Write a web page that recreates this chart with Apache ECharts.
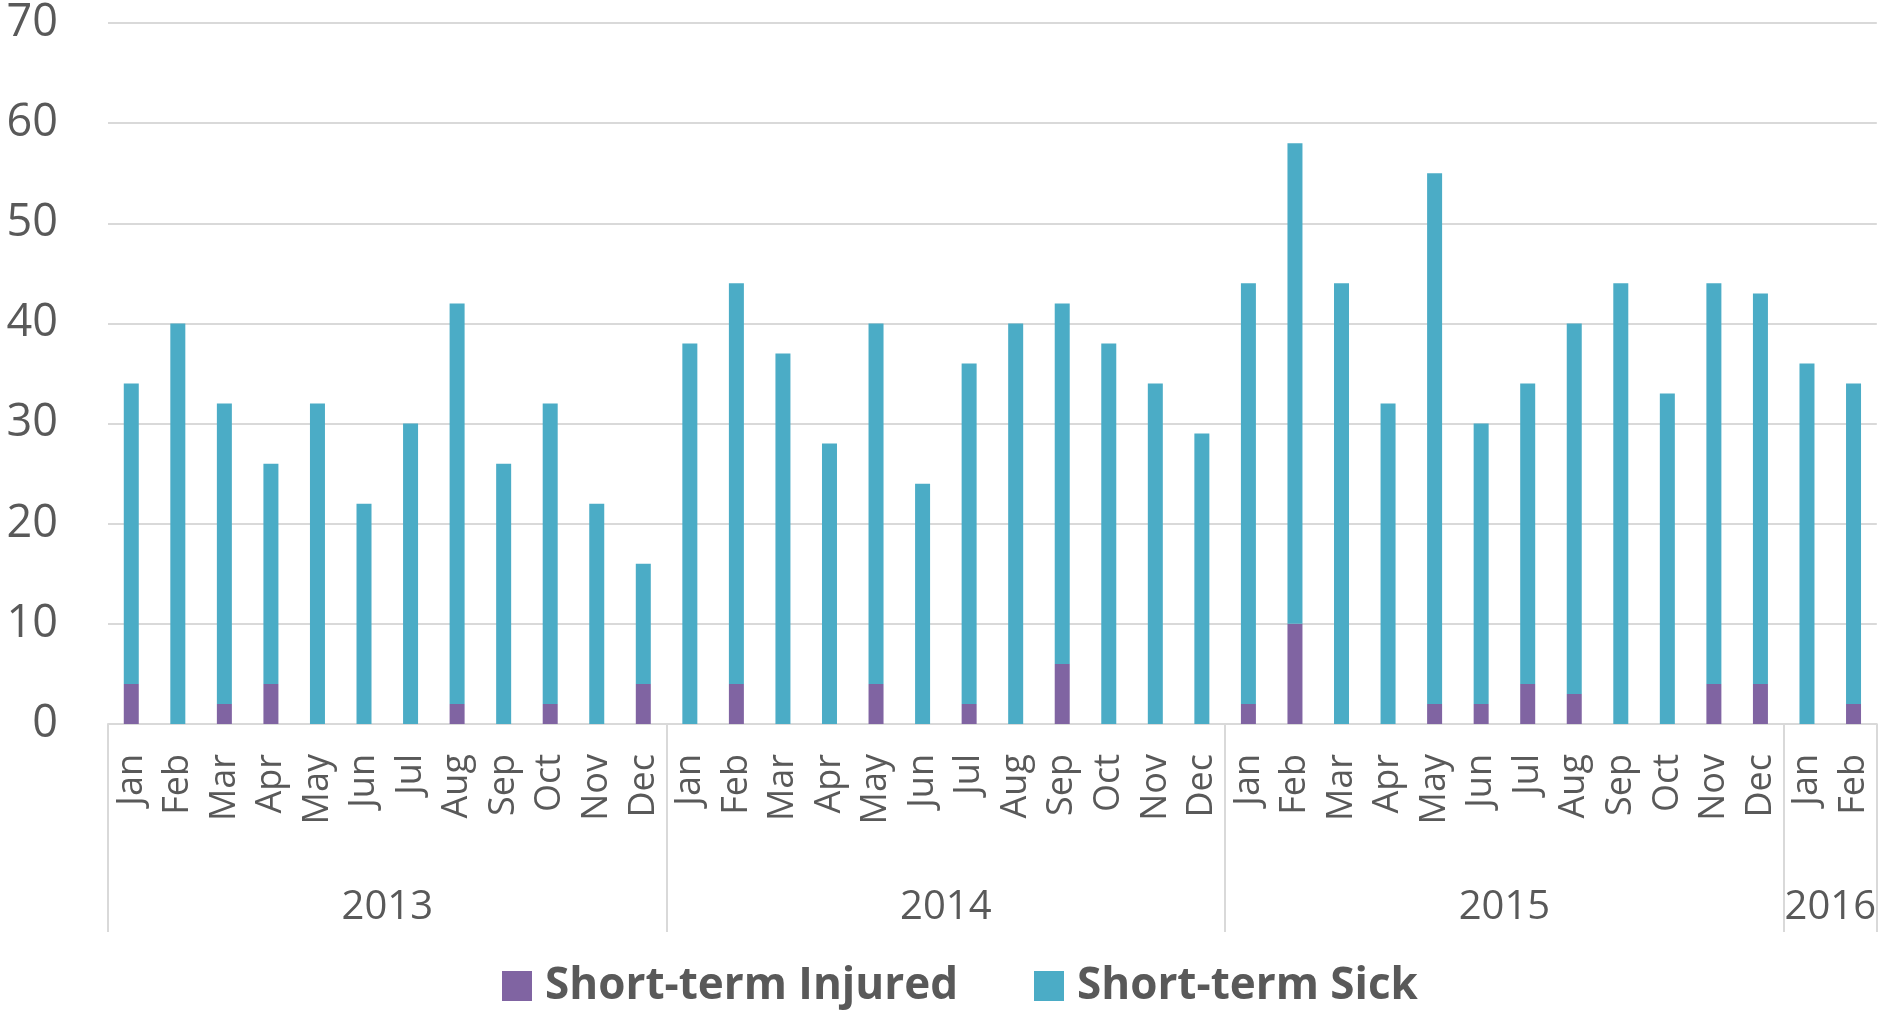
<!DOCTYPE html>
<html>
<head>
<meta charset="utf-8">
<title>Short-term absence</title>
<script src="https://cdn.jsdelivr.net/npm/echarts@6/dist/echarts.min.js"></script>
<style>
  html, body { margin: 0; padding: 0; background: #fff; }
  #main { width: 1879px; height: 1011px; }
</style>
</head>
<body>
<div id="main"></div>
<script type="text/javascript">
// months, 2013 Jan .. 2016 Feb
var months = ['Jan','Feb','Mar','Apr','May','Jun','Jul','Aug','Sep','Oct','Nov','Dec',
              'Jan','Feb','Mar','Apr','May','Jun','Jul','Aug','Sep','Oct','Nov','Dec',
              'Jan','Feb','Mar','Apr','May','Jun','Jul','Aug','Sep','Oct','Nov','Dec',
              'Jan','Feb'];
var years = ['2013', '2014', '2015', '2016'];
var yearCenters = [6, 18, 30, 37];
var yearBounds = [0, 12, 24, 36, 38];

var injured = [4, 0, 2, 4, 0, 0, 0, 2, 0, 2, 0, 4,
               0, 4, 0, 0, 4, 0, 2, 0, 6, 0, 0, 0,
               2, 10, 0, 0, 2, 2, 4, 3, 0, 0, 4, 4,
               0, 2];
var sick = [30, 40, 30, 22, 32, 22, 30, 40, 26, 30, 22, 12,
            38, 40, 37, 28, 36, 24, 34, 40, 36, 38, 34, 29,
            42, 48, 44, 32, 53, 28, 30, 37, 44, 33, 40, 39,
            36, 32];

var yTicks = [0, 10, 20, 30, 40, 50, 60, 70];

var grey = '#595959';
var font = '"Open Sans", "Noto Sans", sans-serif';

var myChart = echarts.init(document.getElementById('main'));

var option = {
    animation: false,
    textStyle: { fontFamily: font },
    grid: { left: 108, right: 2, top: 23, bottom: 287, containLabel: false },
    legend: {
        bottom: -2,
        left: 497,
        itemWidth: 30,
        itemHeight: 30,
        itemGap: 76,
        icon: 'rect',
        textStyle: { fontSize: 44, fontWeight: 'bold', color: grey, fontFamily: font, padding: [0, 0, 0, 8] },
        data: ['Short-term Injured', 'Short-term Sick']
    },
    xAxis: [
        {
            type: 'category',
            data: months,
            axisLine: { lineStyle: { color: '#D9D9D9', width: 2 } },
            axisTick: { show: false },
            axisLabel: { rotate: 90, margin: 30, fontSize: 36, color: grey, interval: 0 }
        },
        {
            type: 'value',
            min: 0,
            max: months.length,
            position: 'bottom',
            axisLine: { show: false },
            splitLine: { show: false },
            axisTick: {
                show: true,
                customValues: yearBounds,
                length: 208,
                lineStyle: { color: '#D9D9D9', width: 2 }
            },
            axisLabel: {
                customValues: yearCenters,
                margin: 164,
                fontSize: 40,
                color: grey,
                formatter: function (v) {
                    var i = yearCenters.indexOf(v);
                    return i >= 0 ? years[i] : '';
                }
            }
        }
    ],
    yAxis: {
        type: 'value',
        min: 0,
        max: 70,
        interval: 10,
        axisLine: { show: false },
        axisTick: { show: false },
        splitLine: { lineStyle: { color: '#D9D9D9', width: 2 } },
        axisLabel: {
            margin: 50,
            fontSize: 45,
            color: grey,
            formatter: function (v) { return yTicks.indexOf(v) >= 0 ? String(v) : ''; }
        }
    },
    series: [
        {
            name: 'Short-term Injured',
            type: 'bar',
            stack: 'total',
            xAxisIndex: 0,
            barWidth: 15,
            itemStyle: { color: '#8064A2' },
            data: injured
        },
        {
            name: 'Short-term Sick',
            type: 'bar',
            stack: 'total',
            xAxisIndex: 0,
            barWidth: 15,
            itemStyle: { color: '#4BACC6' },
            data: sick
        }
    ]
};
myChart.setOption(option);
</script>
</body>
</html>
